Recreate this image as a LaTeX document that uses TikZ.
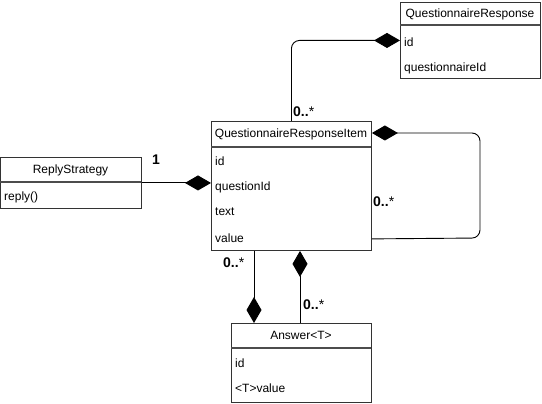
\documentclass[tikz,border=0pt]{standalone}
\usepackage{fontspec}
\setmainfont{Liberation Sans}
\usetikzlibrary{arrows.meta,calc}
\begin{document}
\begin{tikzpicture}[x=1pt,y=-1pt,
  cls/.style={draw=black!80, line width=0.9pt, anchor=north west, inner sep=0pt, fill=white},
  sepline/.style={draw=black!70, line width=1.2pt},
  hdr/.style={font=\fontsize{12}{14}\selectfont, inner sep=0pt, anchor=center},
  attr/.style={font=\fontsize{12}{14}\selectfont, inner sep=0pt, anchor=west},
  mult/.style={font=\fontsize{14}{16}\selectfont\bfseries, inner sep=0pt, anchor=base west},
  conn/.style={draw=black, line width=0.9pt},
  comp/.tip={Diamond[length=26pt, width=15pt, fill=black]}
]
\useasboundingbox (0,0) rectangle (542,404);

% QuestionnaireResponse
\node[cls, minimum width=140pt, minimum height=76pt] (qr) at (400,2) {};
\draw[sepline] (400,25) -- (540,25);
\node[hdr] (qrh) at (470,14) {QuestionnaireResponse};
\node[attr] (qr1) at (404,42) {id};
\node[attr] (qr2) at (404,68) {questionnaireId};

% QuestionnaireResponseItem
\node[cls, minimum width=160pt, minimum height=129pt] (qri) at (211,121) {};
\draw[sepline] (211,147) -- (371,147);
\node[hdr] (qrih) at (291,134) {QuestionnaireResponseItem};
\node[attr] (qri1) at (215,161) {id};
\node[attr] (qri2) at (215,187) {questionId};
\node[attr] (qri3) at (215,212) {text};
\node[attr] (qri4) at (215,238) {value};

% ReplyStrategy
\node[cls, minimum width=141pt, minimum height=51pt] (rs) at (0,157) {};
\draw[sepline] (0,182) -- (141,182);
\node[hdr] (rsh) at (70.5,170) {ReplyStrategy};
\node[attr] (rs1) at (4,197) {reply()};

% Answer<T>
\node[cls, minimum width=140pt, minimum height=79pt] (ans) at (231,323) {};
\draw[sepline] (231,348) -- (371,348);
\node[hdr] (ansh) at (301,335) {Answer<T>};
\node[attr] (ans1) at (235,363) {id};
\node[attr] (ans2) at (235,388) {<T>value};

% Connectors
\draw[conn, -comp, rounded corners=8pt] (qri.north) |- (qr.west);
\coordinate (loopA) at ($(qri.north east)+(0,12)$);
\coordinate (loopB) at ($(qri.south east)+(0,-12)$);
\draw[conn, comp-, rounded corners=8pt] (loopA) -- (480,133) -- (480,238) -- (loopB);
\draw[conn, -comp] (rs.east) -- (qri.west |- rs.east);
\coordinate (bl) at ($(qri.south west)+(43,0)$);
\draw[conn, -comp] (bl) -- (bl |- ans.north);
\coordinate (br) at ($(qri.south west)+(89,0)$);
\draw[conn, -comp] (br |- ans.north) -- (br);

% Multiplicities
\node[mult] (m1) at (293,117) {0..{\normalfont *}};
\node[mult] (m2) at (152,165) {1};
\node[mult] (m3) at (373,207) {0..{\normalfont *}};
\node[mult] (m4) at (223,267) {0..{\normalfont *}};
\node[mult] (m5) at (303,309) {0..{\normalfont *}};
\end{tikzpicture}
\end{document}
